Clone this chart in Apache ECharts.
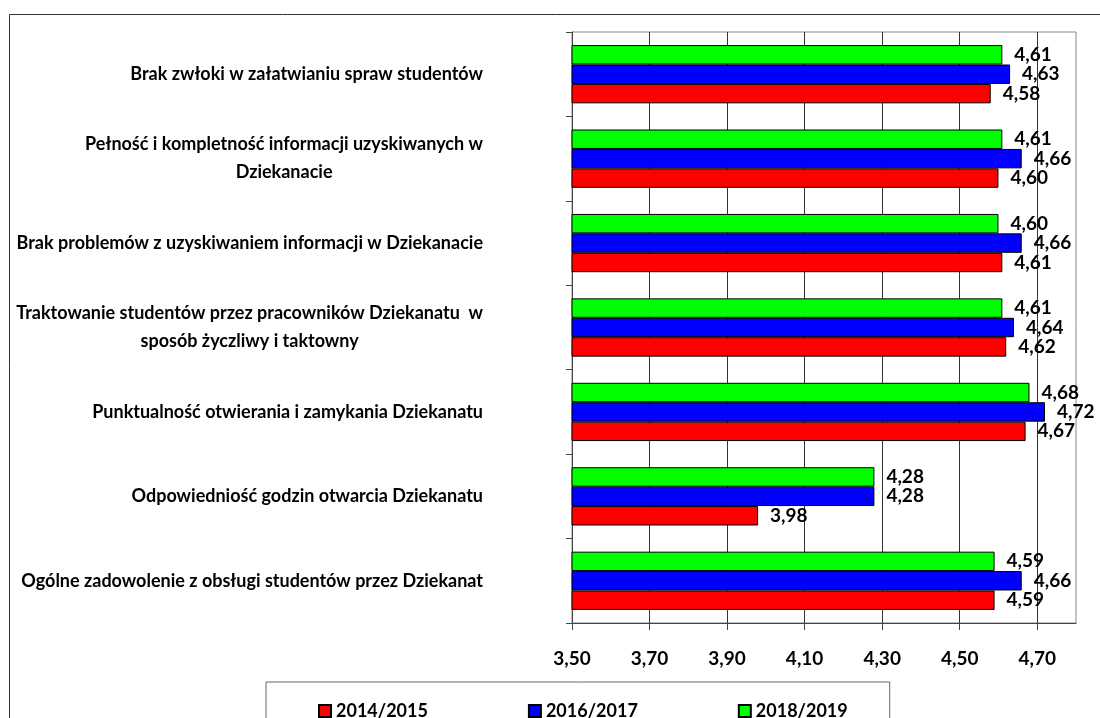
<!DOCTYPE html>
<html>
<head>
<meta charset="utf-8">
<script src="https://cdn.jsdelivr.net/npm/echarts@6/dist/echarts.min.js"></script>
<style>
html,body{margin:0;padding:0;background:#fff;}
#chart{width:1100px;height:718px;}
</style>
</head>
<body>
<div id="chart"></div>
<script>
// Categories, listed top to bottom as in the picture
const categories = [
  'Brak zwłoki w załatwianiu spraw studentów',
  'Pełność i kompletność informacji uzyskiwanych w\nDziekanacie',
  'Brak problemów z uzyskiwaniem informacji w Dziekanacie',
  'Traktowanie studentów przez pracowników Dziekanatu  w\nsposób życzliwy i taktowny',
  'Punktualność otwierania i zamykania Dziekanatu',
  'Odpowiedniość godzin otwarcia Dziekanatu',
  'Ogólne zadowolenie z obsługi studentów przez Dziekanat'
];
const years = ['2014/2015', '2016/2017', '2018/2019'];
const values2014 = [4.58, 4.60, 4.61, 4.62, 4.67, 3.98, 4.59];
const values2016 = [4.63, 4.66, 4.66, 4.64, 4.72, 4.28, 4.66];
const values2018 = [4.61, 4.61, 4.60, 4.61, 4.68, 4.28, 4.59];
const xTicks = [3.5, 3.7, 3.9, 4.1, 4.3, 4.5, 4.7];
const xMin = 3.5, xMax = 4.8;

const FONT = 'Lato';
const fmt = v => Number(v).toFixed(2).replace('.', ',');

function barSeries(name, data, color) {
  return {
    name: name,
    type: 'bar',
    data: data,
    barGap: '0%',
    barCategoryGap: '31%',
    itemStyle: { color: color, borderColor: '#000', borderWidth: 1 },
    label: {
      show: true,
      position: 'right',
      distance: 12,
      formatter: p => fmt(p.value),
      color: '#000',
      fontFamily: FONT,
      fontWeight: 'bold',
      fontSize: 19
    }
  };
}

const chart = echarts.init(document.getElementById('chart'), null, { renderer: 'canvas' });
chart.setOption({
  animation: false,
  backgroundColor: '#fff',
  textStyle: { fontFamily: FONT },
  graphic: [{
    type: 'rect',
    silent: true,
    z: -10,
    shape: { x: 9.5, y: 14.5, width: 1200, height: 800 },
    style: { fill: 'none', stroke: '#333', lineWidth: 1 }
  }],
  grid: {
    left: 572, top: 32, width: 504, height: 591,
    show: true, borderColor: '#888', borderWidth: 1
  },
  legend: {
    data: years,
    left: 266,
    top: 682,
    orient: 'horizontal',
    icon: 'rect',
    itemWidth: 12,
    itemHeight: 12,
    itemGap: 100,
    padding: [20, 42, 40, 52],
    borderColor: '#666',
    borderWidth: 1,
    textStyle: { fontFamily: FONT, fontWeight: 'bold', fontSize: 18, color: '#000' }
  },
  xAxis: {
    type: 'value',
    min: xMin,
    max: xMax,
    interval: 0.2,
    axisLine: { show: true, lineStyle: { color: '#444', width: 1 } },
    axisTick: { show: true, length: 7, customValues: xTicks, lineStyle: { color: '#444' } },
    splitLine: { show: true, lineStyle: { color: '#333', width: 1 } },
    axisLabel: {
      customValues: xTicks,
      formatter: v => fmt(v),
      margin: 26,
      color: '#000',
      fontFamily: FONT,
      fontWeight: 'bold',
      fontSize: 19
    }
  },
  yAxis: {
    type: 'category',
    data: categories,
    inverse: true,
    axisLine: { show: true, lineStyle: { color: '#444', width: 1 } },
    axisTick: { show: true, length: 6, lineStyle: { color: '#444' } },
    splitLine: { show: false },
    axisLabel: {
      margin: 89,
      color: '#000',
      formatter: v => v.split('\n').map(l => '{c|' + l + '}').join('\n'),
      rich: {
        c: {
          align: 'center',
          fontFamily: FONT,
          fontWeight: 'bold',
          fontSize: 18,
          lineHeight: 28,
          color: '#000'
        }
      }
    }
  },
  series: [
    barSeries(years[2], values2018, '#00FF00'),
    barSeries(years[1], values2016, '#0000FF'),
    barSeries(years[0], values2014, '#FF0000')
  ]
});
</script>
</body>
</html>
